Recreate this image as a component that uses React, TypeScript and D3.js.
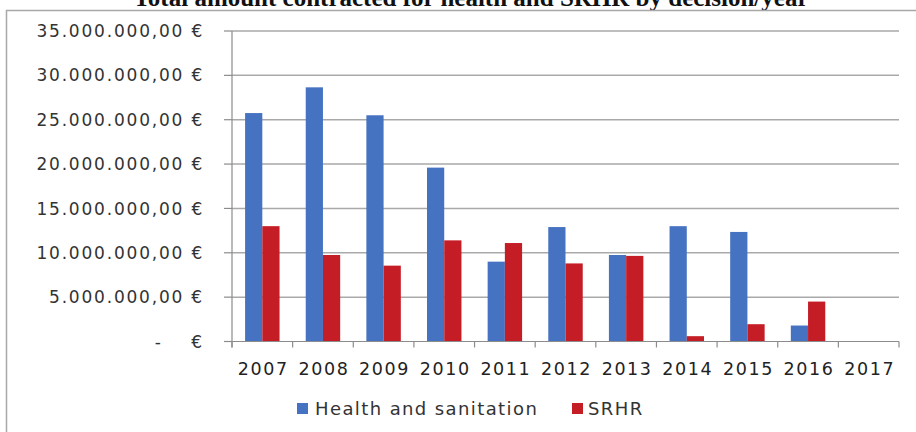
import React from "react";
import * as d3 from "d3";

const years = ["2007", "2008", "2009", "2010", "2011", "2012", "2013", "2014", "2015", "2016", "2017"];
const healthSanitation = [25750000, 28650000, 25500000, 19600000, 9000000, 12900000, 9750000, 13000000, 12350000, 1800000, 0];
const srhr = [13000000, 9750000, 8550000, 11400000, 11100000, 8800000, 9650000, 600000, 1950000, 4500000, 0];
const yTicks = [0, 5000000, 10000000, 15000000, 20000000, 25000000, 30000000, 35000000];
const seriesNames = ["Health and sanitation", "SRHR"];
const colors = ["#4672c2", "#c41d26"];
const title = "Total amount contracted for health and SRHR by decision/year";

const W = 916;
const H = 432;
const plot = { left: 232, right: 899, top: 31, bottom: 341.5 };

const locale = d3.formatLocale({ decimal: ",", thousands: ".", grouping: [3], currency: ["", ""] });
const fmt = locale.format(",.2f");
const tickLabel = (v: number) => (v === 0 ? "-    €" : `${fmt(v)} €`);

export default function App() {
  const x = d3.scaleBand<string>().domain(years).range([plot.left, plot.right]).paddingInner(0).paddingOuter(0);
  const inner = d3.scaleBand<number>().domain([0, 1]).range([0, x.bandwidth()]).paddingInner(0).paddingOuter(0.76);
  const y = d3.scaleLinear().domain([0, 35000000]).range([plot.bottom, plot.top]);
  const series = [healthSanitation, srhr];
  const font = "'DejaVu Sans', sans-serif";
  const boundaries = years.map((yr) => x(yr) as number).concat([plot.right]);

  return (
    <svg width={W} height={H} style={{ position: "absolute", left: 0, top: 0, background: "#fff" }}>
      <rect x={0} y={0} width={W} height={H} fill="#fff" />
      <text x={471} y={6} textAnchor="middle" fontFamily="'Liberation Serif', 'Times New Roman', serif" fontWeight="bold" fontSize={25} fill="#111">
        {title}
      </text>
      <rect x={6.5} y={10.5} width={W + 10} height={H + 10} fill="none" stroke="#a8a8a8" strokeWidth={1.5} />
      {yTicks.map((t) => (
        <g key={t}>
          {t > 0 && <line x1={plot.left} x2={plot.right} y1={y(t)} y2={y(t)} stroke="#a9a9a9" strokeWidth={1.5} />}
          <line x1={plot.left - 8} x2={plot.left} y1={y(t)} y2={y(t)} stroke="#8c8c8c" strokeWidth={1.2} />
          <text x={204} y={y(t)} dy="0.36em" textAnchor="end" fontFamily={font} fontSize={17} fill="#333" letterSpacing={1.8} style={{ whiteSpace: "pre" }}>
            {tickLabel(t)}
          </text>
        </g>
      ))}
      {series.map((vals, si) =>
        years.map((yr, i) => (
          <rect
            key={`${si}-${yr}`}
            x={(x(yr) as number) + (inner(si) as number)}
            y={y(vals[i])}
            width={inner.bandwidth()}
            height={plot.bottom - y(vals[i])}
            fill={colors[si]}
          />
        ))
      )}
      <line x1={plot.left} x2={plot.left} y1={plot.top} y2={plot.bottom + 6} stroke="#8c8c8c" strokeWidth={1.2} />
      <line x1={plot.left} x2={plot.right} y1={plot.bottom} y2={plot.bottom} stroke="#8c8c8c" strokeWidth={1.2} />
      {boundaries.map((bx, i) => (
        <line key={i} x1={bx} x2={bx} y1={plot.bottom} y2={plot.bottom + 6} stroke="#8c8c8c" strokeWidth={1.2} />
      ))}
      {years.map((yr) => (
        <text key={yr} x={(x(yr) as number) + x.bandwidth() / 2 + 1} y={369} dy="0.36em" textAnchor="middle" fontFamily={font} fontSize={17.5} fill="#222" letterSpacing={1.6}>
          {yr}
        </text>
      ))}
      <g>
        <rect x={297} y={403} width={11} height={11} fill={colors[0]} />
        <text x={315} y={408.5} dy="0.36em" fontFamily={font} fontSize={18} fill="#333" letterSpacing={1.4}>
          {seriesNames[0]}
        </text>
        <rect x={572} y={403} width={11} height={11} fill={colors[1]} />
        <text x={588} y={408.5} dy="0.36em" fontFamily={font} fontSize={18} fill="#333" letterSpacing={1.4}>
          {seriesNames[1]}
        </text>
      </g>
    </svg>
  );
}
